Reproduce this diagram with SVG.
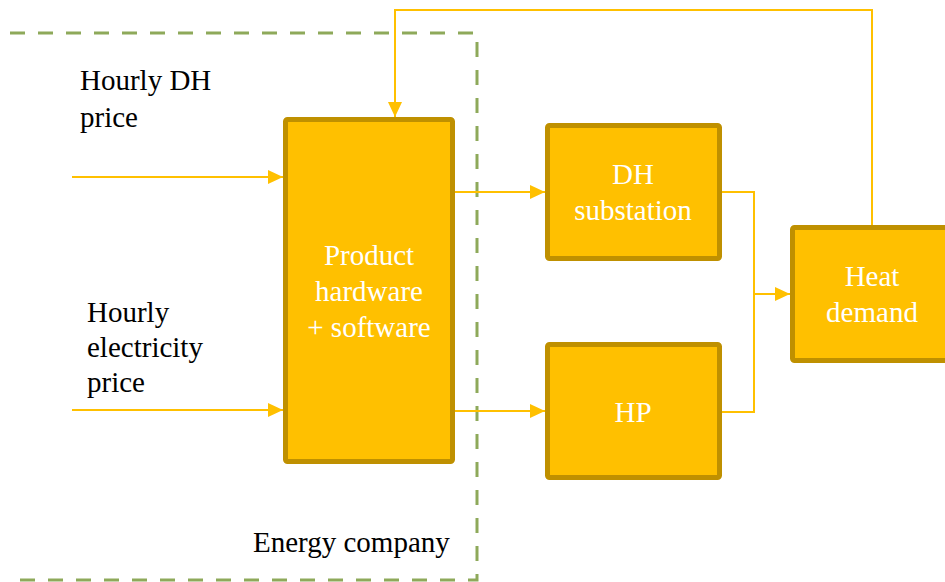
<svg xmlns="http://www.w3.org/2000/svg" width="945" height="582" viewBox="0 0 945 582">
<defs>
<style>
.box{fill:#FFC000;stroke:#BF9000;stroke-width:5}
.lbl{font-family:"Liberation Serif","Times New Roman",serif;font-size:29px;fill:#000}
.wt{font-family:"Liberation Serif","Times New Roman",serif;font-size:29px;fill:#FFFFFF;text-anchor:middle}
.con{fill:none;stroke:#FFC000;stroke-width:2}
.arr{fill:none;stroke:#FFC000;stroke-width:2;marker-end:url(#ah)}
</style>
<marker id="ah" markerUnits="userSpaceOnUse" markerWidth="15" markerHeight="14" refX="15" refY="7" orient="auto">
<path d="M0,0 L15,7 L0,14 z" fill="#FFC000"/>
</marker>
</defs>
<rect width="945" height="582" fill="#FFFFFF"/>
<g id="energy-company">
<path d="M10,33 H477 V580 H10" fill="none" stroke="#8EA95A" stroke-width="3" stroke-dasharray="15 13"/>
<text class="lbl" x="253" y="552">Energy company</text>
</g>
<g id="inputs">
<text class="lbl" x="80" y="90">Hourly DH</text>
<text class="lbl" x="80" y="127">price</text>
<text class="lbl" x="87" y="322">Hourly</text>
<text class="lbl" x="87" y="357">electricity</text>
<text class="lbl" x="87" y="392">price</text>
</g>
<g id="connectors">
<path class="arr" d="M72,177 H283"/>
<path class="arr" d="M72,410 H283"/>
<path class="arr" d="M455,192 H545"/>
<path class="arr" d="M455,411 H545"/>
<path class="con" d="M722,192 H754 V412 H722"/>
<path class="arr" d="M754,294 H790"/>
<path class="arr" d="M872,225 V10 H395 V117"/>
</g>
<g id="product">
<rect class="box" x="285.5" y="119.5" width="167" height="342" rx="2"/>
<text class="wt" x="369" y="265">Product</text>
<text class="wt" x="369" y="301">hardware</text>
<text class="wt" x="369" y="337">+ software</text>
</g>
<g id="dh-substation">
<rect class="box" x="547.5" y="125.5" width="172" height="133" rx="2"/>
<text class="wt" x="633" y="184">DH</text>
<text class="wt" x="633" y="220">substation</text>
</g>
<g id="hp">
<rect class="box" x="547.5" y="344.5" width="172" height="133" rx="2"/>
<text class="wt" x="633" y="422">HP</text>
</g>
<g id="heat-demand">
<rect class="box" x="792.5" y="227.5" width="172" height="133" rx="2"/>
<text class="wt" x="872" y="286">Heat</text>
<text class="wt" x="872" y="322">demand</text>
</g>
</svg>
